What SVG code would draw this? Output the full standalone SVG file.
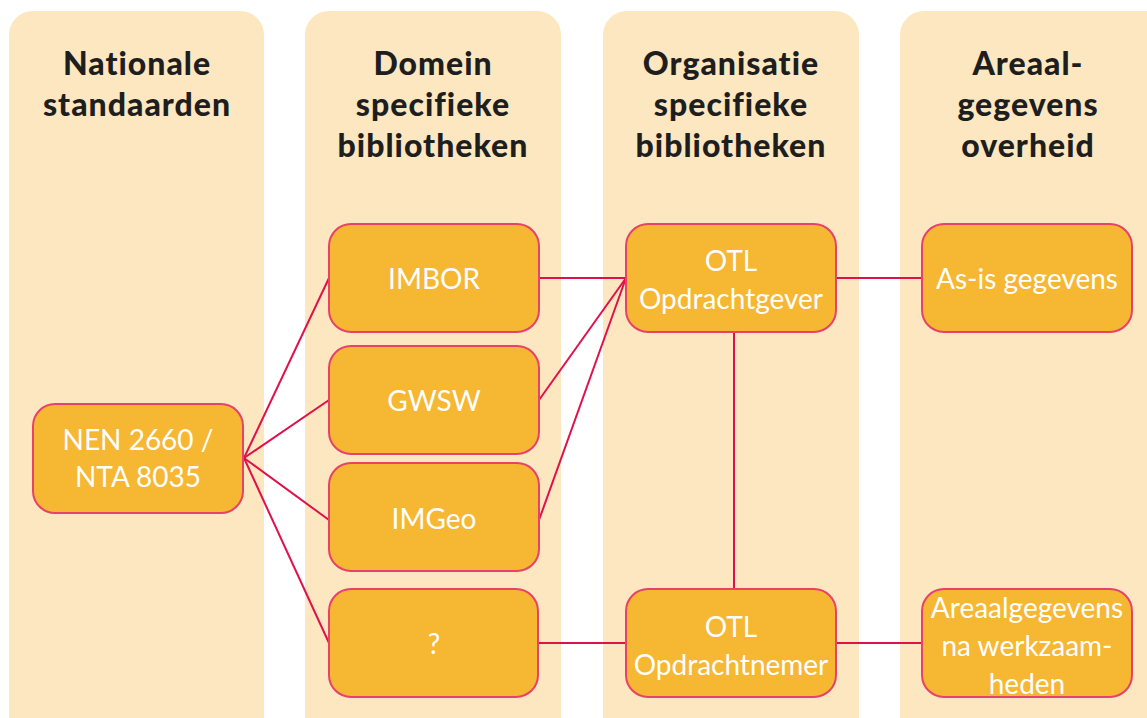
<svg xmlns="http://www.w3.org/2000/svg" width="1147" height="718" viewBox="0 0 1147 718">
<style>
.col{fill:#fce7c0}
.hd{font-family:Lato,"Liberation Sans",sans-serif;font-weight:900;font-size:32px;fill:#1e1e1e;text-anchor:middle;letter-spacing:1px}
.box{fill:#f6b733;stroke:#e8416a;stroke-width:2}
.tx{font-family:Lato,"Liberation Sans",sans-serif;font-size:28px;fill:#ffffff;text-anchor:middle}
.ln{stroke:#e0104a;stroke-width:2;fill:none}
</style>
<rect width="1147" height="718" fill="#ffffff"/>
<g id="columns">
<rect class="col" x="9" y="11" width="255" height="730" rx="24"/>
<rect class="col" x="305" y="11" width="256" height="730" rx="24"/>
<rect class="col" x="603" y="11" width="256" height="730" rx="24"/>
<rect class="col" x="900" y="11" width="270" height="730" rx="24"/>
</g>
<g id="headers">
<text class="hd" x="137" y="75">Nationale</text>
<text class="hd" x="137" y="116">standaarden</text>
<text class="hd" x="433" y="75">Domein</text>
<text class="hd" x="433" y="116">specifieke</text>
<text class="hd" x="433" y="157">bibliotheken</text>
<text class="hd" x="731" y="75">Organisatie</text>
<text class="hd" x="731" y="116">specifieke</text>
<text class="hd" x="731" y="157">bibliotheken</text>
<text class="hd" x="1028" y="75">Areaal-</text>
<text class="hd" x="1028" y="116">gegevens</text>
<text class="hd" x="1028" y="157">overheid</text>
</g>
<g id="connectors">
<line class="ln" x1="244" y1="458" x2="329" y2="278"/>
<line class="ln" x1="244" y1="458" x2="329" y2="400"/>
<line class="ln" x1="244" y1="458" x2="329" y2="520"/>
<line class="ln" x1="244" y1="458" x2="329" y2="643"/>
<line class="ln" x1="539" y1="278" x2="626" y2="278"/>
<line class="ln" x1="539" y1="400" x2="626" y2="278"/>
<line class="ln" x1="539" y1="520" x2="626" y2="278"/>
<line class="ln" x1="836" y1="278" x2="922" y2="278"/>
<line class="ln" x1="734" y1="332" x2="734" y2="589"/>
<line class="ln" x1="538" y1="643" x2="626" y2="643"/>
<line class="ln" x1="836" y1="643" x2="922" y2="643"/>
</g>
<g id="node-nen">
<rect class="box" x="33" y="404" width="210" height="109" rx="22"/>
<text class="tx" x="138" y="450">NEN 2660 /</text>
<text class="tx" x="138" y="487">NTA 8035</text>
</g>
<g id="node-imbor">
<rect class="box" x="329" y="224" width="210" height="108" rx="22"/>
<text class="tx" x="434" y="289">IMBOR</text>
</g>
<g id="node-gwsw">
<rect class="box" x="329" y="346" width="210" height="108" rx="22"/>
<text class="tx" x="434" y="411">GWSW</text>
</g>
<g id="node-imgeo">
<rect class="box" x="329" y="463" width="210" height="108" rx="22"/>
<text class="tx" x="434" y="529">IMGeo</text>
</g>
<g id="node-unknown">
<rect class="box" x="329" y="589" width="209" height="108" rx="22"/>
<text class="tx" x="434" y="654">?</text>
</g>
<g id="node-otl-opdrachtgever">
<rect class="box" x="626" y="224" width="210" height="108" rx="22"/>
<text class="tx" x="731" y="271">OTL</text>
<text class="tx" x="731" y="309">Opdrachtgever</text>
</g>
<g id="node-otl-opdrachtnemer">
<rect class="box" x="626" y="589" width="210" height="108" rx="22"/>
<text class="tx" x="731" y="637">OTL</text>
<text class="tx" x="731" y="675">Opdrachtnemer</text>
</g>
<g id="node-asis">
<rect class="box" x="922" y="224" width="210" height="108" rx="22"/>
<text class="tx" x="1027" y="289">As-is gegevens</text>
</g>
<g id="node-areaal">
<rect class="box" x="922" y="589" width="210" height="108" rx="22"/>
<text class="tx" x="1027" y="618">Areaalgegevens</text>
<text class="tx" x="1027" y="656">na werkzaam-</text>
<text class="tx" x="1027" y="694">heden</text>
</g>
</svg>
